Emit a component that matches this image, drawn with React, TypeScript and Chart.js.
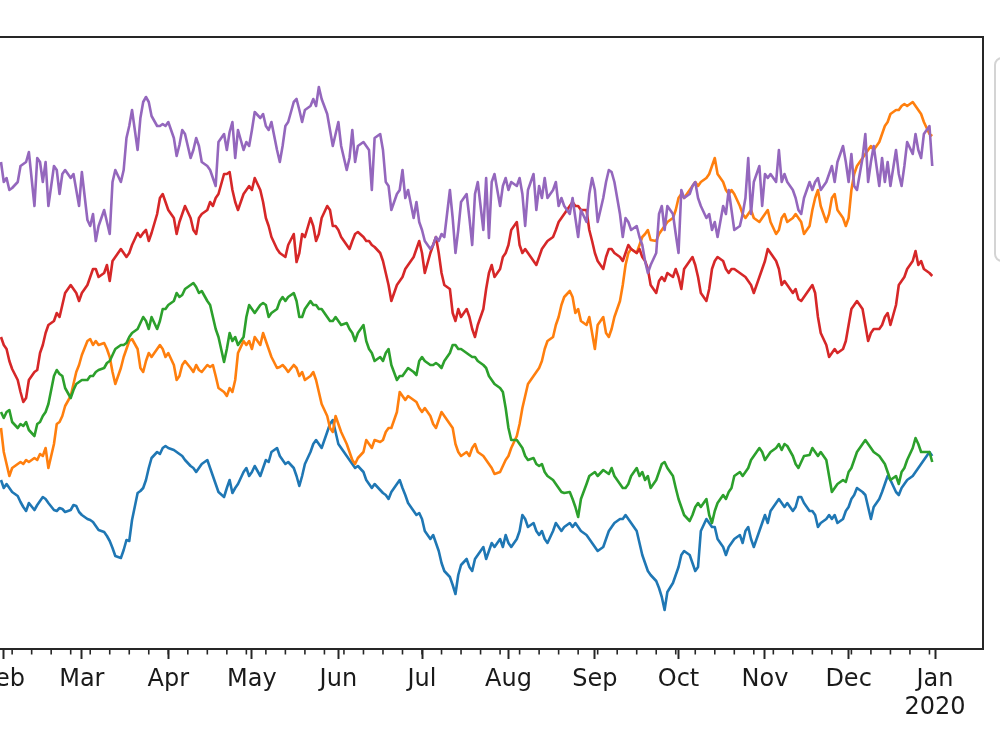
import React, { useEffect, useRef } from "react";
import { Chart, registerables } from "chart.js";

Chart.register(...registerables);

// Day of year 2019 (0 = 2019-01-01) of each sampled observation
const DAYS = [
  30,31,32,33,34,36,37,38,39,40,
  42,43,44,45,46,47,49,50,51,52,
  53,55,56,57,58,59,61,62,63,64,
  65,67,68,69,70,71,73,74,75,76,
  77,79,80,81,82,83,84,86,87,88,
  89,90,92,93,94,95,96,98,99,100,
  101,102,104,105,106,107,108,110,111,112,
  113,114,115,117,118,119,120,121,123,124,
  125,126,127,129,130,131,132,133,135,136,
  137,138,139,141,142,143,144,145,147,148,
  149,150,151,152,154,155,156,157,158,160,
  161,162,163,164,166,167,168,169,170,172,
  173,174,175,176,178,179,180,181,182,184,
  185,186,187,188,189,191,192,193,194,195,
  197,198,199,200,201,203,204,205,206,207,
  209,210,211,212,213,215,216,217,218,219,
  221,222,223,224,225,226,228,229,230,231,
  232,234,235,236,237,238,240,241,242,243,
  244,246,247,248,249,250,252,253,254,255,
  256,258,259,260,261,262,263,265,266,267,
  268,269,271,272,273,274,275,277,278,279,
  280,281,283,284,285,286,287,289,290,291,
  292,293,295,296,297,298,299,300,302,303,
  304,305,306,308,309,310,311,312,314,315,
  316,317,318,320,321,322,323,324,326,327,
  328,329,330,332,333,334,335,336,337,339,
  340,341,342,343,345,346,347,348,349,351,
  352,353,354,355,357,358,359,360,361,363,
  364,
];

const SERIES_A = [
  16.9,16.1,16.5,16.1,15.7,15.3,14.7,14.2,13.8,14.6,
  13.9,14.4,14.8,15.2,15.0,14.6,13.9,13.8,14.1,14.0,
  13.7,13.9,14.4,14.3,13.7,13.4,13.0,12.9,12.7,12.3,
  11.9,11.7,11.3,10.8,10.1,9.3,9.1,9.9,10.9,10.8,
  12.9,15.6,15.8,16.1,16.9,18.1,19.1,19.7,19.5,20.1,
  20.3,20.1,19.9,19.7,19.5,19.3,18.9,18.3,18.1,17.7,
  18.1,18.5,18.9,18.1,17.3,16.5,15.7,15.2,16.1,16.9,
  15.6,16.1,16.5,17.7,18.1,17.3,17.7,18.3,17.3,18.1,
  18.9,18.7,19.7,20.1,19.3,18.9,18.5,18.7,18.1,17.3,
  16.3,17.3,18.5,19.7,20.5,20.9,20.5,20.1,21.7,22.5,
  22.9,21.7,20.5,20.1,19.3,18.9,18.5,18.1,18.3,17.7,
  16.9,16.5,16.1,16.5,15.9,15.6,15.4,15.0,15.7,16.5,
  16.9,16.1,15.4,14.6,13.8,13.4,13.6,13.0,11.8,11.0,
  11.4,10.6,9.8,8.6,7.8,7.2,6.4,5.5,7.4,8.4,
  9.0,8.2,7.8,9.0,9.4,10.2,9.0,9.8,10.6,10.2,
  11.0,10.2,11.4,10.6,10.2,11.0,11.8,13.4,13.0,12.2,
  12.6,11.8,11.4,11.8,11.0,10.6,11.8,12.6,12.2,11.8,
  12.2,12.6,12.2,12.6,12.2,11.8,11.4,11.0,10.6,10.2,
  9.8,10.2,11.0,11.8,12.2,12.6,13.0,13.0,13.4,13.0,
  12.6,11.8,10.6,9.4,8.6,7.8,7.4,6.8,6.1,5.2,
  3.9,5.7,6.6,7.4,8.2,9.4,9.8,9.4,8.6,7.8,
  8.2,11.8,13.0,12.6,12.2,12.2,11.0,10.2,9.4,10.2,
  10.6,11.0,11.4,10.6,11.8,12.2,11.0,10.2,11.8,12.6,
  13.4,12.6,13.8,14.6,15.0,14.6,14.2,14.6,13.8,14.2,
  15.2,15.2,14.6,13.8,13.8,13.4,12.2,12.6,13.0,13.4,
  13.0,13.4,12.6,13.0,13.8,14.2,15.0,15.4,16.1,15.7,
  15.4,14.2,13.0,14.2,15.0,15.7,16.5,17.3,16.9,15.7,
  15.4,16.1,16.5,16.9,17.3,17.7,18.1,18.5,18.9,19.7,
  19.3,
];

const SERIES_B = [
  22.1,19.7,18.5,17.3,18.1,18.5,18.7,18.5,18.9,18.7,
  19.1,18.9,19.5,19.3,20.1,18.1,20.5,22.5,22.7,23.3,
  24.3,25.3,26.5,27.7,28.4,29.4,30.8,31.0,30.4,30.8,
  30.4,30.6,30.0,29.2,27.7,26.5,28.1,29.2,30.0,30.8,
  31.0,30.0,28.1,27.7,28.8,29.6,29.2,30.0,30.4,30.0,
  29.2,29.6,28.4,26.9,27.3,28.4,28.8,28.1,27.7,28.4,
  27.9,27.7,28.4,28.2,28.4,27.3,26.1,25.7,25.3,26.1,
  25.7,26.9,29.6,30.8,30.4,30.8,30.0,31.2,30.4,31.6,
  30.8,30.0,29.2,28.1,28.2,28.4,28.1,27.7,28.4,28.1,
  27.3,27.7,26.9,27.3,27.7,26.9,25.7,24.5,23.3,22.1,
  21.7,23.3,22.5,21.7,20.5,19.7,18.9,18.5,19.1,19.7,
  20.9,20.5,20.1,20.9,20.7,20.9,21.7,22.1,22.1,23.7,
  25.7,25.3,24.9,25.3,24.9,24.7,24.1,23.7,24.1,23.3,
  22.5,22.1,22.9,23.7,23.3,22.5,22.1,20.5,19.7,19.3,
  19.7,19.3,20.1,20.5,19.7,19.3,18.9,18.5,18.1,17.5,
  17.7,18.3,18.9,19.3,20.1,21.3,22.5,24.1,25.3,26.5,
  27.3,27.7,28.1,28.8,30.0,30.8,31.2,32.4,33.2,34.4,
  35.2,35.8,35.2,33.6,34.0,32.8,32.4,33.2,31.6,30.0,
  32.4,33.2,31.6,31.2,32.0,33.2,34.8,36.4,38.4,39.6,
  40.0,39.6,40.4,41.2,41.5,41.9,40.9,40.8,41.5,41.9,
  42.3,42.7,43.1,43.9,45.1,45.5,45.1,45.9,46.3,46.7,
  46.3,46.7,47.1,47.5,48.3,49.1,47.5,46.7,45.9,45.5,
  45.9,45.5,44.3,43.5,43.1,43.5,43.9,43.1,42.7,43.1,
  43.5,43.9,42.7,41.5,41.9,43.1,43.5,42.7,43.1,43.5,
  43.1,42.7,41.5,42.3,43.9,45.1,45.9,44.3,42.7,43.5,
  45.1,45.5,43.9,43.1,42.3,43.1,45.9,47.5,48.3,49.1,
  49.5,49.9,50.3,49.9,50.7,51.5,52.3,52.7,53.5,53.9,
  53.9,54.3,54.5,54.3,54.7,54.3,53.9,53.5,52.7,51.5,
  51.3,
];

const SERIES_C = [
  23.7,23.1,23.7,23.9,22.7,22.1,22.5,22.3,22.7,21.9,
  21.3,22.5,22.7,23.3,23.7,24.5,27.3,27.9,27.5,27.3,
  26.1,25.1,25.9,26.5,26.7,26.9,26.9,27.3,27.3,27.7,
  27.9,28.1,28.6,28.8,29.4,30.0,30.4,30.4,30.6,31.2,
  31.6,32.0,32.6,33.2,32.8,32.0,33.2,32.0,32.8,34.0,
  34.0,34.4,34.8,35.6,35.2,35.4,36.0,36.4,36.6,36.2,
  35.6,35.8,34.8,34.4,33.2,32.0,31.2,28.7,30.0,31.6,
  30.8,31.2,30.4,31.2,33.2,34.4,34.0,33.6,34.4,34.6,
  34.4,33.2,33.6,34.0,34.8,35.2,34.8,35.2,35.6,34.8,
  33.2,33.2,34.0,34.8,34.4,34.4,34.0,34.0,33.2,32.8,
  32.8,33.2,32.8,32.4,32.6,32.0,31.6,30.8,31.6,32.4,
  30.8,30.0,29.6,28.8,29.2,28.8,29.6,30.0,28.4,26.9,
  27.3,27.3,27.7,28.1,27.7,27.4,28.8,29.2,28.8,28.4,
  28.4,28.6,28.4,28.1,28.8,29.6,30.4,30.4,30.0,30.0,
  29.6,29.4,29.2,29.2,28.8,28.4,28.1,27.3,26.9,26.5,
  26.1,25.7,24.1,22.1,20.9,20.9,20.5,20.1,19.3,18.9,
  19.1,18.5,18.3,18.5,17.7,17.3,16.9,16.5,16.1,15.7,
  15.6,15.7,15.0,14.2,13.2,15.0,16.5,17.3,17.5,17.7,
  17.3,17.9,17.7,17.5,18.1,17.3,16.5,16.1,16.1,16.5,
  17.3,18.1,17.3,17.7,16.9,17.3,16.1,16.9,17.7,18.5,
  18.7,18.1,17.3,16.1,15.0,14.2,13.4,12.8,13.4,14.2,
  14.6,14.2,15.0,13.4,12.6,13.8,14.6,15.4,15.0,15.7,
  16.1,17.3,17.7,17.3,17.7,18.1,18.9,19.3,20.1,19.7,
  18.9,19.3,19.7,20.1,20.5,19.9,20.5,20.3,19.3,18.5,
  18.1,18.7,19.3,19.4,20.1,19.7,19.3,19.7,18.9,17.3,
  15.7,16.1,16.5,16.9,16.7,17.7,18.1,18.9,19.7,20.5,
  20.9,20.5,20.1,19.7,19.3,18.9,18.5,17.7,16.9,17.3,
  16.5,17.7,18.1,18.9,20.1,21.1,20.5,19.7,19.7,19.7,
  18.7,
];

const SERIES_D = [
  31.2,30.4,30.0,28.8,28.0,26.9,25.7,24.7,25.1,26.9,
  27.7,27.9,29.6,30.4,31.6,32.4,32.8,33.6,33.2,34.4,
  35.6,36.4,36.0,35.6,34.8,35.6,36.4,37.2,38.0,38.0,
  37.2,37.6,38.4,36.8,38.8,39.2,40.0,39.6,39.2,39.6,
  40.4,41.6,41.2,41.6,41.9,40.8,41.6,43.5,45.1,45.5,
  44.7,43.9,43.1,41.5,42.7,43.5,44.3,43.1,41.9,41.5,
  43.1,43.5,43.9,44.7,44.3,45.1,45.5,47.5,47.5,47.7,
  45.9,44.7,43.9,45.5,45.9,46.3,45.9,47.1,45.9,44.7,
  43.1,42.3,41.2,40.0,39.6,39.4,39.2,40.4,41.5,38.7,
  39.6,41.5,41.2,43.1,42.3,40.8,41.5,43.1,44.3,43.9,
  42.3,42.3,41.9,41.2,40.4,40.0,40.8,41.5,41.7,41.2,
  40.8,40.8,40.4,40.2,39.6,38.8,37.6,36.4,34.8,36.4,
  36.8,37.2,38.0,38.4,39.2,40.0,40.8,39.6,37.6,39.6,
  40.4,41.2,39.6,37.6,36.4,36.0,33.6,32.8,34.0,33.2,
  34.0,33.2,32.0,31.2,32.4,34.0,36.0,37.6,38.4,37.2,
  38.0,39.2,39.6,40.4,41.9,42.7,40.4,39.6,40.0,39.6,
  38.8,38.4,39.2,40.0,40.4,40.8,41.2,41.9,42.7,43.1,
  43.5,44.3,44.7,44.3,44.3,43.9,43.9,41.9,40.8,39.6,
  38.8,38.0,39.2,40.0,40.0,39.6,39.2,38.8,39.6,40.4,
  40.0,39.6,40.0,39.2,38.8,38.0,36.4,35.6,36.8,37.2,
  36.8,37.6,37.2,38.0,37.2,36.0,38.0,38.8,39.2,38.4,
  37.2,35.6,34.8,36.0,38.0,38.8,39.2,38.8,38.0,37.6,
  38.0,38.0,37.6,37.4,37.2,36.8,36.4,35.6,37.2,38.0,
  38.8,40.0,39.6,38.8,38.0,36.4,36.8,36.4,35.6,36.0,
  35.0,34.8,35.2,36.0,36.4,35.6,33.2,31.6,30.4,29.2,
  29.6,30.0,29.6,30.0,30.8,32.4,34.0,34.4,34.8,34.0,
  32.4,30.8,31.6,32.0,32.0,32.4,33.2,33.6,32.4,34.4,
  36.4,36.8,37.2,38.0,38.8,39.8,38.4,38.8,38.0,37.6,
  37.3,
];

const SERIES_E = [
  48.7,46.7,47.1,45.9,46.1,46.7,48.3,48.5,48.7,49.7,
  44.3,49.1,48.7,46.7,48.7,44.3,48.3,47.9,45.5,47.5,
  47.9,47.1,47.5,45.9,44.3,47.7,42.9,42.3,43.5,40.8,
  42.3,43.9,42.7,41.5,46.7,47.9,46.7,47.9,51.1,52.3,
  53.9,49.9,53.1,54.7,55.2,54.7,53.3,52.3,52.3,52.5,
  52.3,52.7,51.1,49.3,50.4,51.9,51.5,49.1,49.9,51.1,
  50.3,48.7,48.3,47.9,47.1,46.3,50.7,51.5,49.9,51.7,
  52.7,49.1,51.9,49.9,50.7,50.3,51.9,53.7,53.1,53.5,
  52.3,51.9,52.7,49.9,48.7,50.3,52.3,52.7,54.7,55.0,
  53.9,52.7,53.9,54.3,55.0,54.3,56.2,55.0,53.5,51.9,
  50.3,51.5,52.7,50.3,47.9,49.1,51.9,48.7,50.3,50.7,
  50.3,49.9,45.9,51.1,51.5,49.9,46.7,46.3,43.9,45.5,
  45.9,47.9,45.1,45.9,43.1,44.7,42.7,41.9,40.8,40.0,
  40.4,41.2,40.8,41.5,41.2,45.9,43.1,39.6,41.9,44.7,
  45.5,43.1,40.4,45.5,46.7,41.9,47.1,41.1,46.7,47.5,
  44.3,46.3,47.1,45.9,46.7,46.3,47.1,45.5,42.3,45.9,
  47.5,43.9,46.3,45.1,47.1,45.1,45.9,46.7,44.3,45.1,
  44.3,43.5,45.1,43.1,41.2,43.9,42.7,45.5,47.1,45.9,
  42.7,45.1,46.7,47.9,47.7,46.7,43.5,41.2,43.1,42.7,
  41.9,42.3,41.2,40.4,38.8,37.6,38.4,39.6,43.5,44.3,
  41.9,44.3,43.5,41.5,39.6,45.9,45.1,45.5,46.3,46.7,
  45.1,44.3,43.1,43.5,41.9,42.7,41.2,44.3,43.5,45.9,
  43.9,41.9,42.3,43.5,45.1,49.1,43.5,46.7,48.3,44.3,
  47.5,47.1,47.5,46.7,49.9,46.7,47.5,46.7,45.9,45.1,
  43.9,43.5,45.1,46.7,45.9,46.7,47.1,45.9,46.7,47.5,
  48.3,46.7,48.7,50.3,48.7,46.7,49.5,46.3,45.9,49.1,
  51.5,46.7,48.7,50.3,46.3,49.1,46.7,48.7,46.3,49.9,
  47.5,46.3,48.3,50.7,49.5,51.5,49.9,49.1,51.5,52.3,
  48.3,
];

const SERIES_NAMES = ["A", "B", "C", "D", "E"];
const SERIES_COLORS = ["#1f77b4", "#ff7f0e", "#2ca02c", "#d62728", "#9467bd"];

// Month starts (day of year) and their labels
const MONTH_TICKS = [0, 31, 59, 90, 120, 151, 181, 212, 243, 273, 304, 334, 365];
const MONTH_LABELS: (string | string[])[] = [
  ["Jan", "2019"], "Feb", "Mar", "Apr", "May", "Jun", "Jul", "Aug", "Sep", "Oct", "Nov", "Dec", ["Jan", "2020"],
];
// Weekly (Monday) minor ticks
const WEEK_TICKS = [
  6, 13, 20, 27, 34, 41, 48, 55, 62, 69, 76, 83, 90, 97, 104, 111, 118, 125, 132, 139, 146, 153, 160,
  167, 174, 181, 188, 195, 202, 209, 216, 223, 230, 237, 244, 251, 258, 265, 272, 279, 286, 293, 300,
  307, 314, 321, 328, 335, 342, 349, 356, 363,
];

const X_MIN = -18.2;
const X_MAX = 382.2;
const Y_MIN = 0;
const Y_MAX = 61.2;

const CANVAS_W = 1220;
const CANVAS_H = 750;
const CANVAS_LEFT = -200;

const framePlugin = {
  id: "mplFrame",
  afterDraw(chart: any) {
    const { ctx, chartArea: a, scales } = chart;
    const x = scales.x;
    ctx.save();
    // minor ticks
    ctx.strokeStyle = "#262626";
    ctx.lineWidth = 1.6;
    for (const d of WEEK_TICKS) {
      const px = x.getPixelForValue(d);
      ctx.beginPath();
      ctx.moveTo(px, a.bottom);
      ctx.lineTo(px, a.bottom + 5.5);
      ctx.stroke();
    }
    // axes frame
    ctx.lineWidth = 2;
    ctx.strokeStyle = "#262626";
    ctx.strokeRect(a.left, a.top, a.right - a.left, a.bottom - a.top);
    // legend box (outside the axes, on the right)
    const lx = a.right + 12;
    const ly = a.top + 21;
    const lw = 120;
    const lh = 203;
    ctx.fillStyle = "rgba(255,255,255,0.8)";
    ctx.strokeStyle = "#d4d4d4";
    ctx.lineWidth = 2;
    ctx.beginPath();
    (ctx as any).roundRect(lx, ly, lw, lh, 7);
    ctx.fill();
    ctx.stroke();
    const ds = chart.data.datasets;
    ctx.font = "22px 'DejaVu Sans', sans-serif";
    ctx.textBaseline = "middle";
    for (let i = 0; i < SERIES_NAMES.length; i++) {
      const yy = ly + 24 + i * 38;
      ctx.strokeStyle = ds[i].borderColor;
      ctx.lineWidth = 2.5;
      ctx.beginPath();
      ctx.moveTo(lx + 12, yy);
      ctx.lineTo(lx + 52, yy);
      ctx.stroke();
      ctx.fillStyle = "#1a1a1a";
      ctx.fillText(SERIES_NAMES[i], lx + 64, yy);
    }
    ctx.restore();
  },
};

export default function App() {
  const ref = useRef<HTMLCanvasElement | null>(null);

  useEffect(() => {
    if (!ref.current) return;
    const all = [SERIES_A, SERIES_B, SERIES_C, SERIES_D, SERIES_E];
    const datasets = all.map((vals, i) => ({
      label: SERIES_NAMES[i],
      data: DAYS.map((d, j) => ({ x: d, y: vals[j] })),
      borderColor: SERIES_COLORS[i],
      backgroundColor: SERIES_COLORS[i],
      borderWidth: 2.6,
      pointRadius: 0,
      tension: 0,
      fill: false,
      borderJoinStyle: "round" as const,
      order: 5 - i,
    }));

    const chart = new Chart(ref.current, {
      type: "line",
      data: { datasets },
      options: {
        animation: false,
        responsive: false,
        devicePixelRatio: 1,
        events: [],
        layout: {
          padding: { left: 66.6, right: 37, top: 37, bottom: 0 },
        },
        plugins: {
          legend: { display: false },
          tooltip: { enabled: false },
        },
        scales: {
          x: {
            type: "linear",
            min: X_MIN,
            max: X_MAX,
            afterBuildTicks: (scale: any) => {
              scale.ticks = MONTH_TICKS.map((v) => ({ value: v }));
            },
            afterFit: (scale: any) => {
              scale.height = 101;
            },
            ticks: {
              autoSkip: false,
              maxRotation: 0,
              minRotation: 0,
              padding: 6,
              color: "#1a1a1a",
              font: { family: "'DejaVu Sans', sans-serif", size: 24, lineHeight: 1.2 },
              callback: (_v: any, i: number) => MONTH_LABELS[i],
            },
            grid: {
              display: true,
              drawOnChartArea: false,
              drawTicks: true,
              tickLength: 10,
              tickWidth: 2,
              tickColor: "#262626",
            },
            border: { display: false },
          },
          y: {
            type: "linear",
            display: false,
            min: Y_MIN,
            max: Y_MAX,
          },
        },
      },
      plugins: [framePlugin],
    });
    return () => chart.destroy();
  }, []);

  return (
    <div
      style={{
        position: "fixed",
        left: 0,
        top: 0,
        width: 1000,
        height: 750,
        overflow: "hidden",
        background: "#fff",
      }}
    >
      <canvas
        ref={ref}
        width={CANVAS_W}
        height={CANVAS_H}
        style={{ position: "absolute", left: CANVAS_LEFT, top: 0, width: CANVAS_W, height: CANVAS_H }}
      />
    </div>
  );
}
